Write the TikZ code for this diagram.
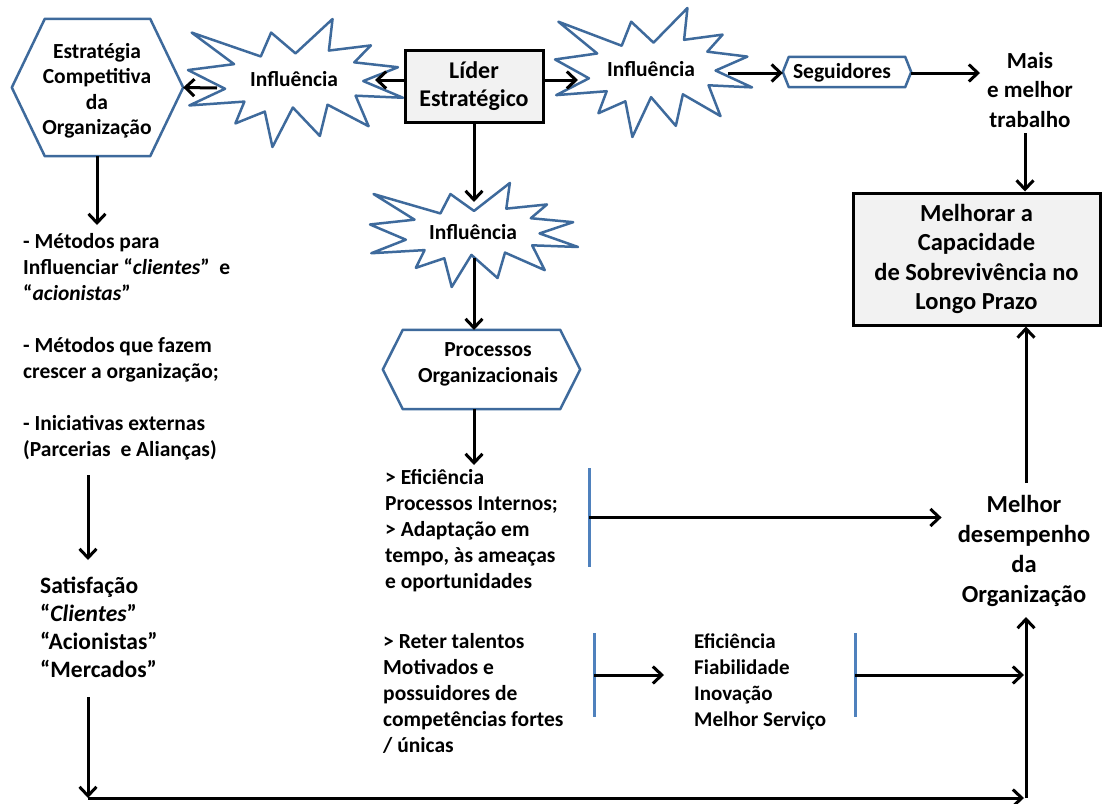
\documentclass[tikz,border=0pt]{standalone}
\usepackage{fontspec}
\setmainfont{Carlito}
\usetikzlibrary{arrows.meta}

\definecolor{outlineblue}{RGB}{62,106,156}
\definecolor{barblue}{RGB}{79,129,189}
\definecolor{boxgray}{RGB}{242,242,242}

% "Explosion" outline in a box given by left, top, width, height (units of 1/216 of the box)
\newcommand\explosion[4]{%
  \pgfmathsetmacro\exw{#3/216}%
  \pgfmathsetmacro\exh{#4/216}%
  \begin{scope}[shift={(#1,#2)}, x=\exw pt, y=-\exh pt]
    \draw[burst] (108,58) -- (145.22,0) -- (141.55,53.25) -- (183.80,44.57)
      -- (167.02,73.15) -- (210.97,81.37) -- (176.07,104.75) -- (216,132.90)
      -- (168.37,129.42) -- (181.45,180.95) -- (140.20,144.57) -- (132.47,197.37)
      -- (105.32,149.35) -- (84.85,216) -- (77.15,156.27) -- (47.62,176.17)
      -- (56.67,139.37) -- (1.35,145.87) -- (37.22,117.75) -- (0,86.15)
      -- (46.27,76.17) -- (3.70,22.95) -- (73.12,63.20) -- (83.52,22.95) -- cycle;
  \end{scope}}

% Flat hexagon outline around a node, with the given horizontal inset of the side points
\newcommand\hexoutline[2]{%
  \draw[hexline] (#1.west) -- ([xshift=#2pt]#1.north west) -- ([xshift=-#2pt]#1.north east)
    -- (#1.east) -- ([xshift=-#2pt]#1.south east) -- ([xshift=#2pt]#1.south west) -- cycle;}

\begin{document}
\begin{tikzpicture}[x=1pt,y=-1pt,
  txt/.style={inner sep=0pt, align=left, font=\bfseries\fontsize{21.5pt}{26pt}\selectfont},
  ctxt/.style={txt, align=center},
  bigtxt/.style={inner sep=0pt, align=center, font=\bfseries\fontsize{24pt}{29.5pt}\selectfont},
  burst/.style={draw=outlineblue, line width=2.5pt, fill=white, line join=round},
  hexline/.style={draw=outlineblue, line width=2.5pt, fill=white, line join=round},
  hexbox/.style={inner sep=0pt, draw=none},
  graybox/.style={draw=black, line width=3pt, fill=boxgray, inner sep=0pt, align=center},
  bar/.style={fill=barblue, inner sep=0pt, minimum width=3pt},
  arr/.style={line width=3pt, -{Straight Barb[length=9pt,width=17pt]}},
]
\useasboundingbox[fill=white] (0,0) rectangle (1102,803);

% ---- shapes (multi-line texts are placed by the baseline of their last line) ----
\node[hexbox, minimum width=171pt, minimum height=137pt] (strat) at (97.5,87.5) {};
\hexoutline{strat}{33}
\node[ctxt, anchor=base] (stratT) at (97,134.5) {Estratégia\\[-0.5pt]Competitiva\\[-0.5pt]da\\[-0.5pt]Organização};

\explosion{188}{19}{215}{128}
\node[ctxt, anchor=base] (s1) at (294,86) {Influência};

\node[graybox, minimum width=138pt, minimum height=72pt, font=\bfseries\fontsize{24pt}{28pt}\selectfont] (lider) at (474,86) {Líder\\Estratégico};

\explosion{555}{8}{197}{129}
\node[ctxt, anchor=base] (s2) at (651,76) {Influência};

\node[hexbox, minimum width=128pt, minimum height=30pt] (seg) at (847,72) {};
\hexoutline{seg}{6}
\node[ctxt, anchor=base] (segT) at (842,78) {Seguidores};

\node[bigtxt, anchor=base, font=\bfseries\fontsize{23pt}{29.5pt}\selectfont] (mais) at (1030,127) {Mais\\e melhor\\trabalho};

\node[graybox, minimum width=247pt, minimum height=132pt, font=\bfseries\fontsize{24.5pt}{29.5pt}\selectfont] (melh) at (976.5,259) {Melhorar a\\Capacidade\\de Sobrevivência no\\Longo Prazo};

\explosion{370}{183}{208}{104}
\node[ctxt, anchor=base] (s3) at (473,239) {Influência};

\node[hexbox, minimum width=197pt, minimum height=79pt] (proc) at (481.5,369.5) {};
\hexoutline{proc}{20}
\node[ctxt, anchor=base] (procT) at (488,382) {Processos\\Organizacionais};

% ---- texts ----
\node[txt, anchor=base west] (lst) at (23,456)
  {- Métodos para\\Influenciar “\textit{clientes}”\ \ e\\“\textit{acionistas}”\\[25.8pt]- Métodos que fazem\\crescer a organização;\\[25.8pt]- Iniciativas externas\\(Parcerias\ \ e Alianças)};

\node[txt, anchor=base west, font=\bfseries\fontsize{23.5pt}{27.7pt}\selectfont] (sat) at (40,677)
  {Satisfação\\“\textit{Clientes}”\\“Acionistas”\\“Mercados”};

\node[txt, anchor=base west] (ef1) at (385,588)
  {> Eficiência\\Processos Internos;\\> Adaptação em\\tempo, às ameaças\\e oportunidades};

\node[txt, anchor=base west] (ret) at (383,752)
  {> Reter talentos\\Motivados e\\possuidores de\\competências fortes\\/ únicas};

\node[txt, anchor=base west, font=\bfseries\fontsize{21pt}{26pt}\selectfont] (eff) at (694,726)
  {Eficiência\\Fiabilidade\\Inovação\\Melhor Serviço};

\node[bigtxt, anchor=base, font=\bfseries\fontsize{24.5pt}{30pt}\selectfont] (desemp) at (1024,602)
  {Melhor\\desempenho\\da\\Organização};

% ---- blue brackets ----
\node[bar, minimum height=99pt] (b1) at (589,517.5) {};
\node[bar, minimum height=84pt] (b2) at (594,675) {};
\node[bar, minimum height=84pt] (b3) at (855,675) {};

% ---- connector ends ----
\coordinate (s1in) at (375,80);
\coordinate (s1out) at (217,88);
\coordinate (s2in) at (578,80);
\coordinate (s2out) at (728,73);
\coordinate (maisin) at (980,73);
\coordinate (maisout) at (1025,133);
\coordinate (s3top) at (474,202);
\coordinate (s3bot) at (474,258);
\coordinate (procin) at (474,330);
\coordinate (procout) at (474,409);
\coordinate (ef1in) at (474,465);
\coordinate (stratout) at (97,156);
\coordinate (lstin) at (97,225);
\coordinate (lstout) at (88,475);
\coordinate (satin) at (88,560);
\coordinate (satout) at (88,697);
\coordinate (bl) at (88,798);
\coordinate (br) at (1026,798);
\coordinate (dsout) at (1026,483);
\coordinate (dsin) at (1026,617);

% ---- connectors ----
\draw[arr] ([yshift=6pt]lider.west) -- (s1in);
\draw[arr] (s1out) -- (strat.east);
\draw[arr] ([yshift=6pt]lider.east) -- (s2in);
\draw[arr] (s2out) -- (seg.west |- s2out);
\draw[arr] (seg.east |- s2out) -- (maisin);
\draw[arr] (maisout) -- (maisout |- melh.north);
\draw[arr] (dsout) -- (dsout |- melh.south);
\draw[arr] (lider.south) -- (s3top);
\draw[arr] (s3bot) -- (procin);
\draw[arr] (procout) -- (ef1in);
\draw[arr] (stratout) -- (lstin);
\draw[arr] (lstout) -- (satin);
\draw[arr] (satout) -- (bl);
\draw[arr] (bl) -- ([xshift=-2pt]br);
\draw[arr] (br) -- (dsin);
\draw[arr] (b1.center) -- ([xshift=-16pt]b1.center -| desemp.west);
\draw[arr] (b2.center) -- (664,675);
\draw[arr] (b3.center) -- ([xshift=-2pt]b3.center -| br);
\end{tikzpicture}
\end{document}
